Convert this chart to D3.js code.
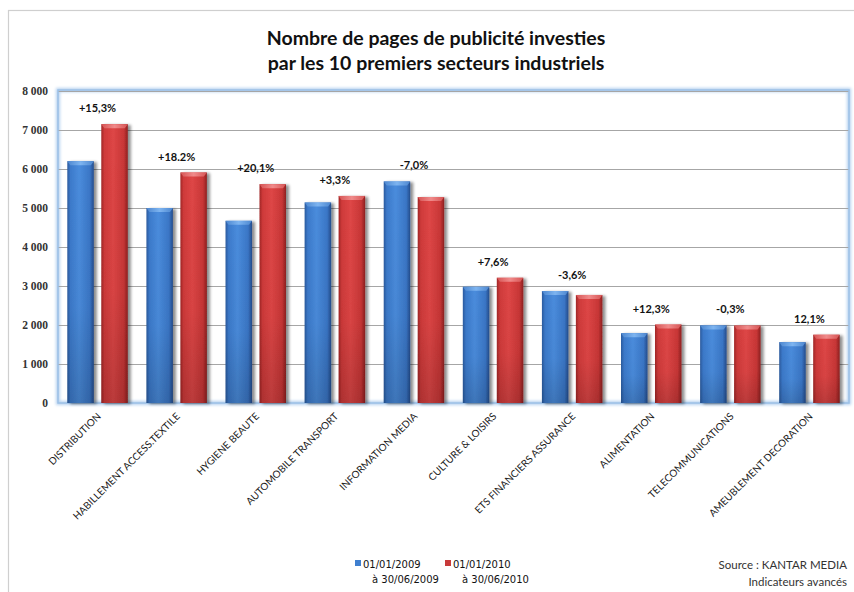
<!DOCTYPE html>
<html><head><meta charset="utf-8">
<script src="https://cdn.jsdelivr.net/npm/d3@7"></script>
<style>html,body{margin:0;padding:0;background:#fff;}svg{display:block;}</style>
</head><body>
<svg id="chart" width="854" height="592"></svg>
<script>
const categories = ["DISTRIBUTION","HABILLEMENT ACCESS.TEXTILE","HYGIENE BEAUTE","AUTOMOBILE TRANSPORT","INFORMATION MEDIA","CULTURE & LOISIRS","ETS FINANCIERS ASSURANCE","ALIMENTATION","TELECOMMUNICATIONS","AMEUBLEMENT DECORATION"];
const values2009 = [6200, 5000, 4670, 5140, 5680, 2980, 2870, 1790, 1990, 1560];
const values2010 = [7150, 5910, 5610, 5310, 5280, 3210, 2770, 2010, 1985, 1750];
const changeLabels = ["+15,3%","+18.2%","+20,1%","+3,3%","-7,0%","+7,6%","-3,6%","+12,3%","-0,3%","12,1%"];
const yTicks = [0,1000,2000,3000,4000,5000,6000,7000,8000];
const seriesNames = [["01/01/2009","à 30/06/2009"],["01/01/2010","à 30/06/2010"]];
const titleLines = ["Nombre de pages de publicité investies","par les 10 premiers secteurs industriels"];
const sourceLines = ["Source : KANTAR MEDIA","Indicateurs avancés"];

const svg = d3.select("#chart");
const defs = svg.append("defs");
function hGrad(id, stops){
  const g = defs.append("linearGradient").attr("id", id).attr("x1","0").attr("x2","1").attr("y1","0").attr("y2","0");
  stops.forEach(s => g.append("stop").attr("offset", s[0]).attr("stop-color", s[1]));
}
hGrad("gBlue", [["0%","#2a5a9e"],["12%","#3c7acb"],["45%","#4a8cdc"],["85%","#3a76c6"],["100%","#244c8c"]]);
hGrad("gRed", [["0%","#a02626"],["12%","#cf3a3a"],["45%","#de4646"],["85%","#c83636"],["100%","#8e2020"]]);
hGrad("gBlueTop", [["0%","#4c86cf"],["50%","#7db4f0"],["100%","#4c86cf"]]);
hGrad("gRedTop", [["0%","#d65454"],["50%","#f08a8a"],["100%","#d65454"]]);
const vShade = defs.append("linearGradient").attr("id","vShade").attr("x1","0").attr("x2","0").attr("y1","0").attr("y2","1");
vShade.append("stop").attr("offset","0%").attr("stop-color","#000").attr("stop-opacity",0);
vShade.append("stop").attr("offset","60%").attr("stop-color","#000").attr("stop-opacity",0.03);
vShade.append("stop").attr("offset","100%").attr("stop-color","#000").attr("stop-opacity",0.16);
const sh = defs.append("filter").attr("id","shadow").attr("x","-20%").attr("y","-10%").attr("width","160%").attr("height","130%");
sh.append("feGaussianBlur").attr("in","SourceAlpha").attr("stdDeviation",1.6);
sh.append("feOffset").attr("dx",2.5).attr("dy",1).attr("result","b");
sh.append("feComponentTransfer").append("feFuncA").attr("type","linear").attr("slope",0.45);
const fm = sh.append("feMerge"); fm.append("feMergeNode"); fm.append("feMergeNode").attr("in","SourceGraphic");
const glow = defs.append("filter").attr("id","glow").attr("x","-5%").attr("y","-5%").attr("width","110%").attr("height","110%");
glow.append("feGaussianBlur").attr("stdDeviation",1.5);

// outer frame
svg.append("rect").attr("x",8.5).attr("y",10.5).attr("width",852).attr("height",600)
  .attr("fill","none").attr("stroke","#cfcfcf").attr("stroke-width",1.2);

const plot = {left:58, right:849, top:91, bottom:403};
const x = d3.scaleBand().domain(categories).range([plot.left, plot.right]).padding(0);
const xs = d3.scaleBand().domain([0,1]).range([0, x.bandwidth()]).paddingInner(0.22).paddingOuter(0.274);
const y = d3.scaleLinear().domain([0, 8000]).range([plot.bottom, plot.top]);

// title
svg.append("g").selectAll("text").data(titleLines).join("text")
  .attr("x", 436).attr("y", (d,i) => 45 + i*25)
  .attr("text-anchor","middle").attr("font-family","Lato, 'Open Sans', sans-serif")
  .attr("font-weight","bold").attr("font-size",19.5).attr("fill","#111").text(d => d);

// plot area border glow
svg.append("rect").attr("x",plot.left).attr("y",plot.top-1).attr("width",plot.right-plot.left).attr("height",plot.bottom-plot.top+1)
  .attr("fill","none").attr("stroke","#b6d2f0").attr("stroke-width",4).attr("filter","url(#glow)");

// grid
svg.append("g").selectAll("line").data(yTicks.filter(t => t>0)).join("line")
  .attr("x1", plot.left).attr("x2", plot.right).attr("y1", d => Math.round(y(d))+0.5).attr("y2", d => Math.round(y(d))+0.5)
  .attr("stroke","#a6a6a6").attr("stroke-width",1);

// y axis
const yAxis = d3.axisLeft(y).tickValues(yTicks).tickSize(0).tickPadding(10)
  .tickFormat(d => d3.format(",")(d).replace(/,/g, " "));
const ya = svg.append("g").attr("transform", `translate(${plot.left},0)`).call(yAxis);
ya.select(".domain").remove();
ya.selectAll("text").attr("font-family","'Liberation Serif', 'DejaVu Serif', serif").attr("font-size",11.5)
  .attr("font-weight","bold").attr("fill","#333");

// plot border
svg.append("rect").attr("x",plot.left).attr("y",plot.top-1).attr("width",plot.right-plot.left).attr("height",plot.bottom-plot.top+1)
  .attr("fill","none").attr("stroke","#9cc0e6").attr("stroke-width",1.5);

// bars
const series = [values2009, values2010];
const grads = [["url(#gBlue)","url(#gBlueTop)"],["url(#gRed)","url(#gRedTop)"]];
const groups = svg.append("g").selectAll("g").data(categories).join("g")
  .attr("transform", d => `translate(${x(d)},0)`);
groups.each(function(cat, ci){
  const g = d3.select(this);
  [0,1].forEach(si => {
    const v = series[si][ci];
    const bx = xs(si), bw = xs.bandwidth(), by = y(v), bh = plot.bottom - y(v);
    const bg = g.append("g").attr("filter","url(#shadow)");
    bg.append("rect").attr("x",bx).attr("y",by).attr("width",bw).attr("height",bh).attr("fill",grads[si][0]);
    bg.append("rect").attr("x",bx).attr("y",by).attr("width",bw).attr("height",bh).attr("fill","url(#vShade)");
    bg.append("path").attr("d", `M${bx},${by} L${bx+bw},${by} L${bx+bw-3},${by+4} L${bx+3},${by+4} Z`).attr("fill",grads[si][1]);
  });
});

// change labels
groups.append("text")
  .attr("x", x.bandwidth()/2)
  .attr("y", (d,i) => y(Math.max(values2009[i], values2010[i])) - 12)
  .attr("text-anchor","middle").attr("font-family","Lato, sans-serif").attr("font-weight","bold")
  .attr("font-size",11).attr("fill","#111").text((d,i) => changeLabels[i]);

// category labels
svg.append("g").selectAll("text").data(categories).join("text")
  .attr("transform", d => `translate(${x(d)+x.bandwidth()/2+4},${plot.bottom+14}) rotate(-45)`)
  .attr("text-anchor","end").attr("font-family","Lato, sans-serif").attr("font-size",10)
  .attr("fill","#1a1a1a").text(d => d);

// legend
const legendColors = ["#3f7fcf","#c83a3a"];
const lg = svg.append("g").selectAll("g").data(seriesNames).join("g")
  .attr("transform", (d,i) => `translate(${355 + i*90},560)`);
lg.append("rect").attr("x",0).attr("y",0).attr("width",6).attr("height",6)
  .attr("fill",(d,i) => legendColors[i]);
lg.append("text").attr("x",8).attr("y",7.5).attr("font-family","'DejaVu Sans', sans-serif").attr("font-size",10)
  .attr("fill","#111").text(d => d[0]);
lg.append("text").attr("x",17).attr("y",22.5).attr("font-family","'DejaVu Sans', sans-serif").attr("font-size",10)
  .attr("fill","#111").text(d => d[1]);

// source
svg.append("g").selectAll("text").data(sourceLines).join("text")
  .attr("x",847).attr("y",(d,i) => 569 + i*17).attr("text-anchor","end")
  .attr("font-family","Lato, sans-serif").attr("font-size",11.5).attr("fill","#333").text(d => d);
</script>
</body></html>
